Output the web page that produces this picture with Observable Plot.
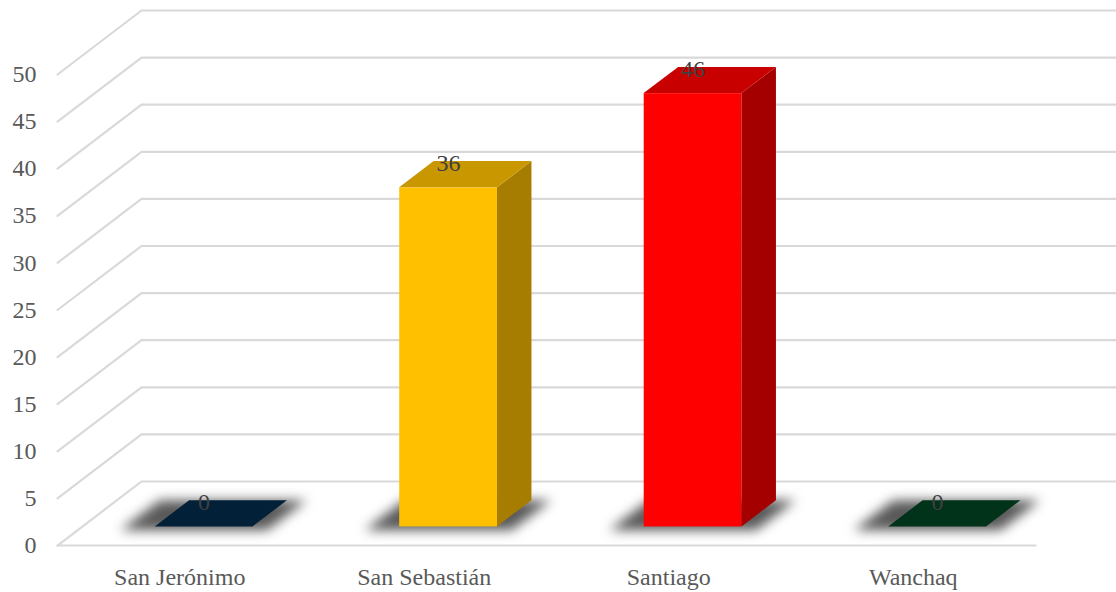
<!DOCTYPE html>
<html>
<head>
<meta charset="utf-8">
<script src="https://cdn.jsdelivr.net/npm/d3@7"></script>
<script src="https://cdn.jsdelivr.net/npm/@observablehq/plot@0.6"></script>
<style>
  html, body { margin: 0; padding: 0; background: #fff; overflow: hidden; }
  #chart svg { display: block; }
</style>
</head>
<body>
<div id="chart"></div>
<script>
// ---- data ----
const categories = ["San Jerónimo", "San Sebastián", "Santiago", "Wanchaq"];
const values = [0, 36, 46, 0];
const frontColors = ["#022138", "#FFC000", "#FF0000", "#01321A"];
const topColors = ["#022138", "#C99700", "#C90000", "#01321A"];
const sideColors = ["#011A2C", "#A67D00", "#A50000", "#012814"];
const yTicks = [0, 5, 10, 15, 20, 25, 30, 35, 40, 45, 50];

// ---- 3D projection parameters (depth expressed in data units) ----
const DX = 84 / 244.5;   // depth shift along x, in category units
const DV = 64 / 9.42;    // depth shift along y, in value units
const T1 = 0.29, T2 = 0.70; // bar front / back depth
const HW = 0.2;          // half bar width (category units)

const bars = categories.map((c, i) => ({i, c, v: values[i]}));

// gridlines: left diagonal + back horizontal
const grid = yTicks.flatMap(L => [
  {L, x: -0.5, y: L},
  {L, x: -0.5 + DX, y: L + DV},
  {L, x: 3.5 + DX + 0.6, y: L + DV}
]);
const floorFront = [{x: -0.5, y: 0}, {x: 3.5, y: 0}];

const shadowPts = bars.flatMap(d => [T1 - 0.06, T2].map(t => ({
  i: d.i, y: t * DV, x1: d.i - HW - 0.12 + t * DX, x2: d.i + HW + 0.08 + t * DX
})));
const frontBars = bars.filter(d => d.v > 0);
const topPts = bars.flatMap(d => [T1, T2].map(t => ({
  i: d.i, y: d.v + t * DV, x1: d.i - HW + t * DX, x2: d.i + HW + t * DX
})));
const sidePts = frontBars.flatMap(d => [T1, T2].map(t => ({
  i: d.i, x: d.i + HW + t * DX, y1: t * DV, y2: d.v + t * DV
})));

const font = "'Liberation Serif', 'DejaVu Serif', serif";

const chart = Plot.plot({
  width: 1116,
  height: 592,
  marginLeft: 57,
  marginRight: 81,
  marginTop: 74,
  marginBottom: 47,
  x: {type: "linear", domain: [-0.5, 3.5], range: [57, 1035], axis: null},
  y: {type: "linear", domain: [0, 50], range: [545, 74], axis: null},
  color: {type: "identity"},
  style: {fontFamily: font, background: "#fff", overflow: "hidden"},
  marks: [
    Plot.line(grid, {x: "x", y: "y", z: "L", stroke: "#d9d9d9", strokeWidth: 2.2}),
    Plot.line(floorFront, {x: "x", y: "y", stroke: "#d9d9d9", strokeWidth: 2.2}),
    Plot.areaX(shadowPts, {y: "y", x1: "x1", x2: "x2", z: "i", fill: "#303030", fillOpacity: 0.8, imageFilter: "blur(6px)"}),
    Plot.rect(frontBars, {
      x1: d => d.i - HW + T1 * DX, x2: d => d.i + HW + T1 * DX,
      y1: d => T1 * DV, y2: d => d.v + T1 * DV,
      fill: d => frontColors[d.i]
    }),
    Plot.areaY(sidePts, {x: "x", y1: "y1", y2: "y2", z: "i", fill: d => sideColors[d.i]}),
    Plot.areaX(topPts, {y: "y", x1: "x1", x2: "x2", z: "i", fill: d => topColors[d.i]}),
    Plot.text(bars, {
      x: d => d.i + T1 * DX, y: d => d.v + T2 * DV, text: d => String(d.v),
      dy: 2, fontSize: 24, fill: "#404040", fontFamily: font
    }),
    Plot.text(yTicks, {
      x: () => -0.5, y: d => d, text: d => String(d),
      textAnchor: "end", dx: -21, fontSize: 24, fill: "#595959", fontFamily: font
    }),
    Plot.text(categories, {
      x: (d, i) => i, y: () => 0, text: d => d,
      dy: 32, fontSize: 24, fill: "#595959", fontFamily: font
    })
  ]
});
document.getElementById("chart").appendChild(chart);
</script>
</body>
</html>
